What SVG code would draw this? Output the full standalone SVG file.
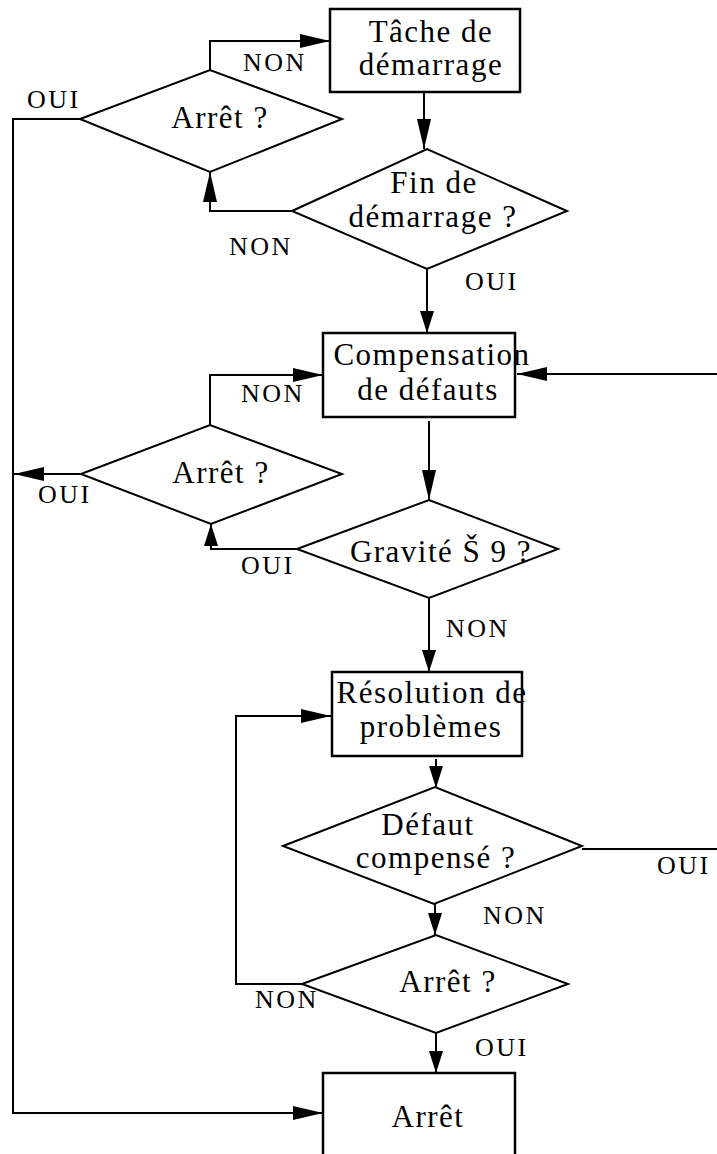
<svg xmlns="http://www.w3.org/2000/svg" width="717" height="1154" viewBox="0 0 717 1154">
<style>
.box{fill:#fff;stroke:#000;stroke-width:2.5}
.dia{fill:#fff;stroke:#000;stroke-width:2}
.con{fill:none;stroke:#000;stroke-width:2}
.nt{font-family:"Liberation Serif","Times New Roman",serif;font-size:31px;letter-spacing:1.5px;text-anchor:middle;fill:#000}
.lb{font-family:"Liberation Serif","Times New Roman",serif;font-size:26px;letter-spacing:2.5px;fill:#000}
</style>
<defs>
<marker id="aL" markerUnits="userSpaceOnUse" markerWidth="32" markerHeight="16" refX="30" refY="7" orient="auto"><path d="M0,0 L30,7 L0,14 Z" fill="#000"/></marker>
<marker id="aS" markerUnits="userSpaceOnUse" markerWidth="24" markerHeight="16" refX="22" refY="7" orient="auto"><path d="M0,0 L22,7 L0,14 Z" fill="#000"/></marker>
</defs>
<rect width="717" height="1154" fill="#fff"/>
<g id="connectors">
<polyline class="con" points="210,70 210,41 330,41" marker-end="url(#aL)"/>
<polyline class="con" points="80,119 13,119 13,1113 323,1113" marker-end="url(#aL)"/>
<polyline class="con" points="424,92 424,149" marker-end="url(#aL)"/>
<polyline class="con" points="292,211 210,211 210,172" marker-end="url(#aL)"/>
<polyline class="con" points="427,269 427,333" marker-end="url(#aS)"/>
<polyline class="con" points="717,374 517,374" marker-end="url(#aL)"/>
<polyline class="con" points="210,425 210,375 323,375" marker-end="url(#aL)"/>
<polyline class="con" points="81,474 14,474" marker-end="url(#aL)"/>
<polyline class="con" points="429,421 429,500" marker-end="url(#aL)"/>
<polyline class="con" points="297,549 211,549 211,524" marker-end="url(#aS)"/>
<polyline class="con" points="429,598 429,672" marker-end="url(#aS)"/>
<polyline class="con" points="302,984 236,984 236,716 331,716" marker-end="url(#aL)"/>
<polyline class="con" points="436,759 436,788" marker-end="url(#aS)"/>
<polyline class="con" points="582,849 717,849"/>
<polyline class="con" points="435,904 435,935" marker-end="url(#aS)"/>
<polyline class="con" points="436,1033 436,1073" marker-end="url(#aS)"/>
</g>
<g id="labels">
<text class="lb" x="27" y="108">OUI</text>
<text class="lb" x="243" y="71">NON</text>
<text class="lb" x="229" y="255">NON</text>
<text class="lb" x="465" y="290">OUI</text>
<text class="lb" x="241" y="402">NON</text>
<text class="lb" x="38" y="503">OUI</text>
<text class="lb" x="241" y="574">OUI</text>
<text class="lb" x="446" y="637">NON</text>
<text class="lb" x="657" y="874">OUI</text>
<text class="lb" x="483" y="924">NON</text>
<text class="lb" x="255" y="1008">NON</text>
<text class="lb" x="475" y="1056">OUI</text>
</g>
<g id="n1"><rect class="box" x="330" y="9" width="190" height="83"/><text class="nt" x="431" y="42">Tâche de</text><text class="nt" x="431" y="75">démarrage</text></g>
<g id="n2"><polygon class="dia" points="80,119 210,70 342,119 210,172"/><text class="nt" x="220" y="128">Arrêt ?</text></g>
<g id="n3"><polygon class="dia" points="292,211 427,149 567,211 427,269"/><text class="nt" x="434" y="193">Fin de</text><text class="nt" x="433" y="227">démarrage ?</text></g>
<g id="n4"><rect class="box" x="323" y="333" width="192" height="84"/><text class="nt" x="432" y="365">Compensation</text><text class="nt" x="428" y="400">de défauts</text></g>
<g id="n5"><polygon class="dia" points="81,474 210,425 342,474 211,524"/><text class="nt" x="221" y="483">Arrêt ?</text></g>
<g id="n6"><polygon class="dia" points="297,549 429,500 558,549 429,598"/><text class="nt" x="441" y="562">Gravité Š 9 ?</text></g>
<g id="n7"><rect class="box" x="332" y="672" width="190" height="84"/><text class="nt" x="432" y="703">Résolution de</text><text class="nt" x="431" y="737">problèmes</text></g>
<g id="n8"><polygon class="dia" points="283,846 435,787 582,846 434,904"/><text class="nt" x="428" y="835">Défaut</text><text class="nt" x="436" y="868">compensé ?</text></g>
<g id="n9"><polygon class="dia" points="302,984 436,935 568,984 436,1033"/><text class="nt" x="448" y="992">Arrêt ?</text></g>
<g id="n10"><rect class="box" x="323" y="1073" width="192" height="90"/><text class="nt" x="428" y="1127">Arrêt</text></g>
</svg>
